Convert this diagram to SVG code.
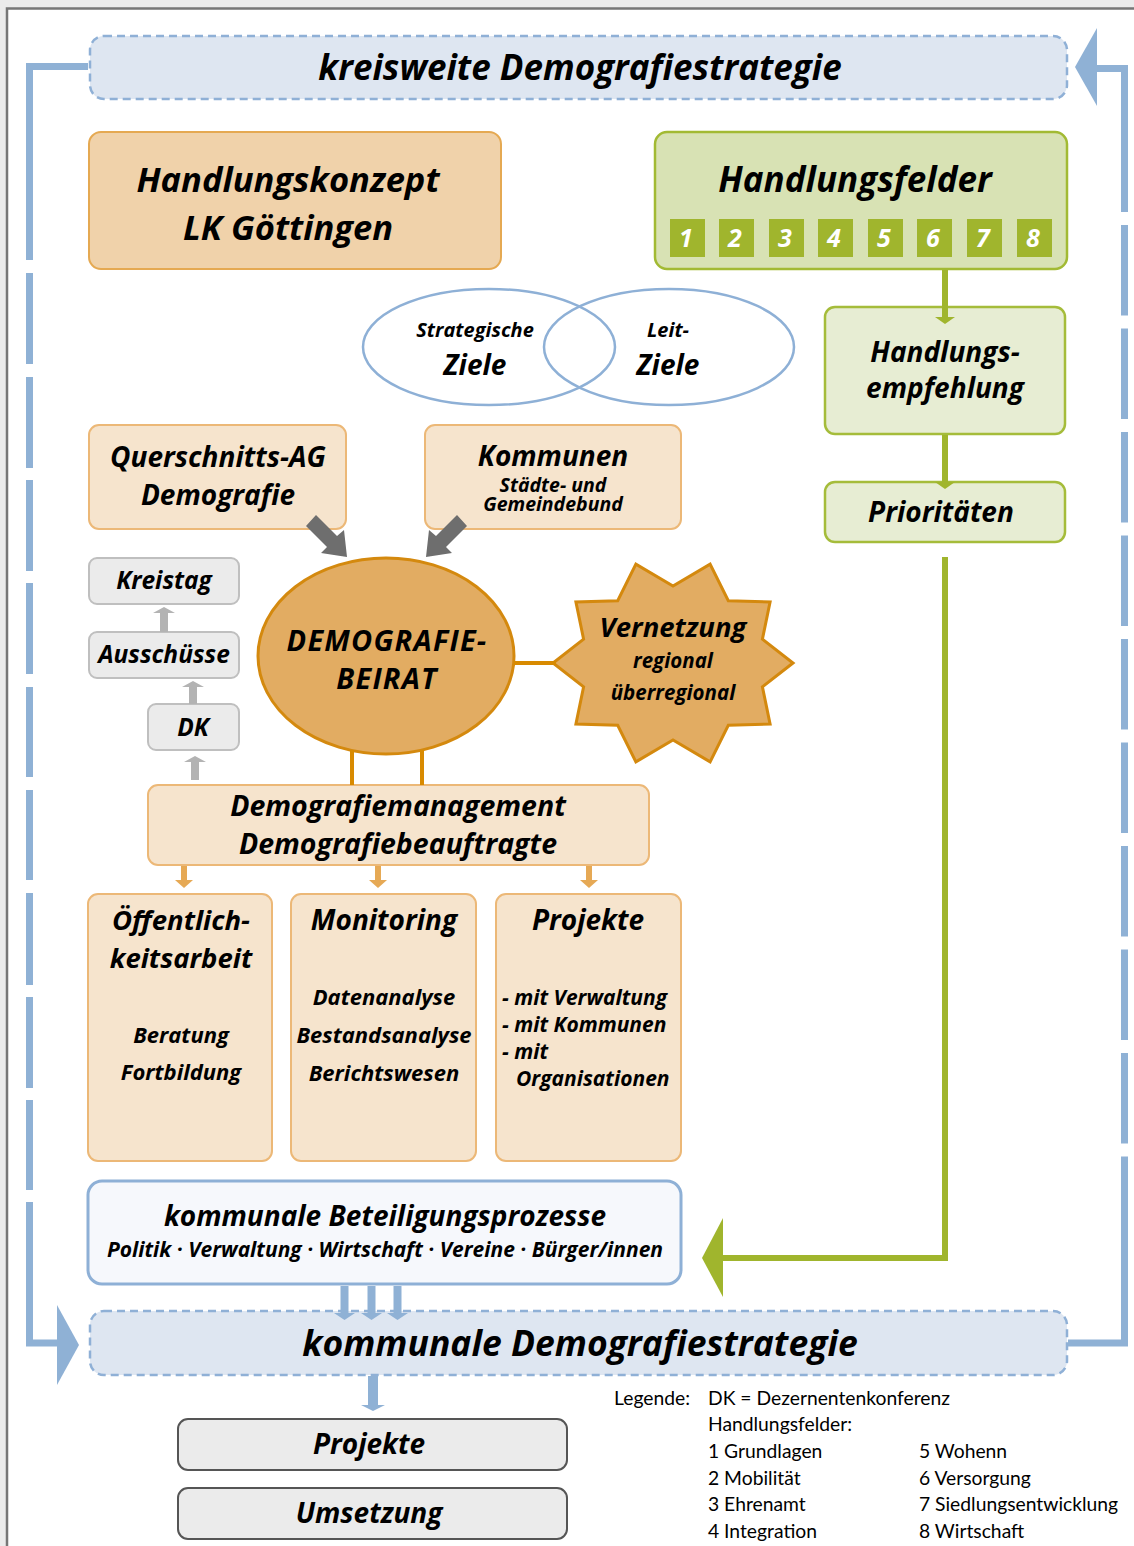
<svg xmlns="http://www.w3.org/2000/svg" width="1134" height="1546" viewBox="0 0 1134 1546">
<defs>
<style>
.t{font-family:"Open Sans",Lato,"Liberation Sans",sans-serif;font-weight:700;font-style:italic;text-anchor:middle;fill:#000}
.s{text-anchor:start}
.leg{font-family:Lato,"Open Sans","Liberation Sans",sans-serif;font-weight:400;font-size:19.3px;fill:#000}
.band{fill:#dee6f1;stroke:#8fb0d6;stroke-width:2.5;stroke-dasharray:8 5}
.peach{fill:#f0d2aa;stroke:#e5a952;stroke-width:2}
.lp{fill:#f6e4cd;stroke:#ecb877;stroke-width:2}
.gbox{fill:#d8e2b4;stroke:#a2ba33;stroke-width:2.5}
.lg{fill:#e7edd3;stroke:#a5bc3a;stroke-width:2.5}
.sq{fill:#a0b52d}
.num{font-family:"Open Sans",Lato,sans-serif;font-weight:700;font-style:italic;font-size:25px;fill:#fff;text-anchor:middle}
.grey{fill:#ebebeb;stroke:#bfbfbf;stroke-width:2}
.dgrey{fill:#ebebeb;stroke:#555;stroke-width:2}
.blu{fill:none;stroke:#8fb1d5;stroke-width:7}
.blf{fill:#8fb1d5}
.orl{stroke:#d88a00;stroke-width:4;fill:none}
.orf{fill:#e6a955}
.grn{fill:none;stroke:#a0b52d;stroke-width:6}
.grf{fill:#a0b52d}
.venn{fill:none;stroke:#8eb0d6;stroke-width:2.5}
</style>
</defs>
<rect x="0" y="0" width="1134" height="1546" fill="#ebebeb"/>
<rect x="7" y="9" width="1127" height="1537" fill="#fff"/>
<path d="M7 1546 V8.5 H1134" fill="none" stroke="#767676" stroke-width="2.5"/>

<g id="kreisweite">
  <rect class="band" x="90" y="36" width="977" height="63" rx="14"/>
  <text class="t" x="580" y="80" font-size="35">kreisweite Demografiestrategie</text>
</g>

<g id="handlungskonzept">
  <rect class="peach" x="89" y="132" width="412" height="137" rx="12"/>
  <text class="t" x="288" y="192" font-size="34.5">Handlungskonzept</text>
  <text class="t" x="288" y="240" font-size="34.5">LK Göttingen</text>
</g>

<g id="handlungsfelder">
  <rect class="gbox" x="655" y="132" width="412" height="137" rx="12"/>
  <text class="t" x="855" y="192" font-size="35">Handlungsfelder</text>
  <rect class="sq" x="670" y="219" width="35" height="38"/>
  <rect class="sq" x="719" y="219" width="35" height="38"/>
  <rect class="sq" x="769" y="219" width="35" height="38"/>
  <rect class="sq" x="818" y="219" width="35" height="38"/>
  <rect class="sq" x="868" y="219" width="35" height="38"/>
  <rect class="sq" x="917" y="219" width="35" height="38"/>
  <rect class="sq" x="967" y="219" width="35" height="38"/>
  <rect class="sq" x="1017" y="219" width="35" height="38"/>
  <text class="num" x="686" y="247">1</text>
  <text class="num" x="735" y="247">2</text>
  <text class="num" x="785" y="247">3</text>
  <text class="num" x="834" y="247">4</text>
  <text class="num" x="884" y="247">5</text>
  <text class="num" x="933" y="247">6</text>
  <text class="num" x="983" y="247">7</text>
  <text class="num" x="1033" y="247">8</text>
</g>

<g id="ziele">
  <ellipse class="venn" cx="489" cy="347" rx="126" ry="58"/>
  <ellipse class="venn" cx="669" cy="347" rx="125" ry="58"/>
  <text class="t" x="475" y="337" font-size="20">Strategische</text>
  <text class="t" x="475" y="375" font-size="28">Ziele</text>
  <text class="t" x="668" y="337" font-size="20">Leit-</text>
  <text class="t" x="668" y="375" font-size="28">Ziele</text>
</g>

<g id="handlungsempfehlung">
  <rect class="lg" x="825" y="307" width="240" height="127" rx="10"/>
  <text class="t" x="945" y="362" font-size="28">Handlungs-</text>
  <text class="t" x="945" y="398" font-size="28">empfehlung</text>
</g>

<g id="prioritaeten">
  <rect class="lg" x="825" y="482" width="240" height="60" rx="10"/>
  <text class="t" x="941" y="522" font-size="28">Prioritäten</text>
</g>

<g id="querschnitts-ag">
  <rect class="lp" x="89" y="425" width="257" height="104" rx="10"/>
  <text class="t" x="218" y="467" font-size="28">Querschnitts-AG</text>
  <text class="t" x="218" y="505" font-size="28">Demografie</text>
</g>

<g id="kommunen">
  <rect class="lp" x="425" y="425" width="256" height="104" rx="10"/>
  <text class="t" x="553" y="466" font-size="28">Kommunen</text>
  <text class="t" x="553" y="492" font-size="19.5">Städte- und</text>
  <text class="t" x="553" y="511" font-size="19.5">Gemeindebund</text>
</g>

<g id="kreistag">
  <rect class="grey" x="89" y="558" width="150" height="46" rx="8"/>
  <text class="t" x="164" y="589" font-size="24.5">Kreistag</text>
</g>
<g id="ausschuesse">
  <rect class="grey" x="89" y="632" width="150" height="46" rx="8"/>
  <text class="t" x="164" y="663" font-size="24.5">Ausschüsse</text>
</g>
<g id="dk">
  <rect class="grey" x="148" y="704" width="91" height="46" rx="8"/>
  <text class="t" x="193" y="736" font-size="24.5">DK</text>
</g>

<g id="beirat">
  <ellipse cx="386" cy="656" rx="128" ry="98" fill="#e2ac62" stroke="#d4890e" stroke-width="3"/>
  <text class="t" x="387" y="651" font-size="29" letter-spacing="1.2">DEMOGRAFIE-</text>
  <text class="t" x="387" y="689" font-size="29" letter-spacing="1.2">BEIRAT</text>
</g>

<g id="vernetzung">
  <polygon fill="#e2ac62" stroke="#d4890e" stroke-width="3" points="793,663 762.4,686.8 770.1,724.1 728.3,725.3 710.1,761.9 673,740 635.9,761.9 617.7,725.3 575.9,724.1 583.6,686.8 553,663 583.6,639.2 575.9,601.9 617.7,600.7 635.9,564.1 673,586 710.1,564.1 728.3,600.7 770.1,601.9 762.4,639.2"/>
  <text class="t" x="673" y="637" font-size="27.5">Vernetzung</text>
  <text class="t" x="673" y="668" font-size="20.5">regional</text>
  <text class="t" x="673" y="700" font-size="20.5">überregional</text>
</g>

<g id="demografiemanagement">
  <rect class="lp" x="148" y="785" width="501" height="80" rx="10"/>
  <text class="t" x="398" y="816" font-size="28.5">Demografiemanagement</text>
  <text class="t" x="398" y="854" font-size="28.5">Demografiebeauftragte</text>
</g>

<g id="oeffentlichkeitsarbeit">
  <rect class="lp" x="88" y="894" width="184" height="267" rx="10"/>
  <text class="t" x="181" y="930" font-size="27.5">Öffentlich-</text>
  <text class="t" x="181" y="968" font-size="27.5">keitsarbeit</text>
  <text class="t" x="181" y="1043" font-size="22">Beratung</text>
  <text class="t" x="181" y="1080" font-size="22">Fortbildung</text>
</g>

<g id="monitoring">
  <rect class="lp" x="291" y="894" width="185" height="267" rx="10"/>
  <text class="t" x="384" y="930" font-size="28">Monitoring</text>
  <text class="t" x="384" y="1005" font-size="22">Datenanalyse</text>
  <text class="t" x="384" y="1043" font-size="22">Bestandsanalyse</text>
  <text class="t" x="384" y="1081" font-size="22">Berichtswesen</text>
</g>

<g id="projekte-mid">
  <rect class="lp" x="496" y="894" width="185" height="267" rx="10"/>
  <text class="t" x="588" y="930" font-size="28">Projekte</text>
  <text class="t s" x="502" y="1005" font-size="21">- mit Verwaltung</text>
  <text class="t s" x="502" y="1032" font-size="21">- mit Kommunen</text>
  <text class="t s" x="502" y="1059" font-size="21">- mit</text>
  <text class="t s" x="516" y="1086" font-size="21">Organisationen</text>
</g>

<g id="beteiligungsprozesse">
  <rect x="88" y="1181" width="593" height="103" rx="14" fill="#f6f8fc" stroke="#8eb0d6" stroke-width="3"/>
  <text class="t" x="385" y="1226" font-size="28">kommunale Beteiligungsprozesse</text>
  <text class="t" x="385" y="1257" font-size="21">Politik · Verwaltung · Wirtschaft · Vereine · Bürger/innen</text>
</g>

<g id="kommunale">
  <rect class="band" x="90" y="1311" width="977" height="64" rx="14"/>
  <text class="t" x="580" y="1356" font-size="35.5">kommunale Demografiestrategie</text>
</g>

<g id="projekte">
  <rect class="dgrey" x="178" y="1419" width="389" height="51" rx="10"/>
  <text class="t" x="369" y="1454" font-size="28">Projekte</text>
</g>
<g id="umsetzung">
  <rect class="dgrey" x="178" y="1488" width="389" height="51" rx="10"/>
  <text class="t" x="369" y="1523" font-size="28">Umsetzung</text>
</g>

<g id="legende">
  <text class="leg" x="614" y="1405">Legende:</text>
  <text class="leg" x="708" y="1405">DK = Dezernentenkonferenz</text>
  <text class="leg" x="708" y="1431">Handlungsfelder:</text>
  <text class="leg" x="708" y="1458">1 Grundlagen</text>
  <text class="leg" x="708" y="1485">2 Mobilität</text>
  <text class="leg" x="708" y="1511">3 Ehrenamt</text>
  <text class="leg" x="708" y="1538">4 Integration</text>
  <text class="leg" x="919" y="1458">5 Wohenn</text>
  <text class="leg" x="919" y="1485">6 Versorgung</text>
  <text class="leg" x="919" y="1511">7 Siedlungsentwicklung</text>
  <text class="leg" x="919" y="1538">8 Wirtschaft</text>
</g>

<g id="connectors">
  <path class="blu" d="M88 66.5 H29.5 V260 M29.5 273 V364 M29.5 377 V468 M29.5 480 V571 M29.5 583 V674 M29.5 687 V777 M29.5 790 V880 M29.5 893 V985 M29.5 997 V1088 M29.5 1100 V1190 M29.5 1202 V1343 H58"/>
  <polygon class="blf" points="57,1305 79,1345 57,1385"/>
  <path class="blu" d="M1097 68.5 H1124.5 V212 M1124.5 225 V315.5 M1124.5 328.5 V419 M1124.5 432 V522.5 M1124.5 535.5 V626 M1124.5 639 V729.5 M1124.5 742.5 V833 M1124.5 846 V936.5 M1124.5 949.5 V1040 M1124.5 1053 V1143.5 M1124.5 1156.5 V1343 H1068"/>
  <polygon class="blf" points="1097,28 1075,67 1097,106"/>
  <path class="grn" d="M945 270 V318"/>
  <polygon class="grf" points="935,317 955,317 945,324"/>
  <path class="grn" d="M945 435 V483"/>
  <polygon class="grf" points="935,482 955,482 945,489"/>
  <path class="grn" d="M945 557 V1258 H720"/>
  <polygon class="grf" points="723,1218 702,1258 723,1297"/>
  <polygon fill="#6e6e6e" points="316,515 337,536 344,530 347,557 321,553 327,547 306,526"/>
  <polygon fill="#6e6e6e" points="457,515 436,536 429,530 426,557 452,553 446,547 467,526"/>
  <path fill="#b3b3b3" d="M160 632 V613 H153 L164 607 L175 613 H168 V632 Z"/>
  <path fill="#b3b3b3" d="M189 704 V687 H182 L193 681 L204 687 H197 V704 Z"/>
  <path fill="#b3b3b3" d="M191 780 V762 H184 L195 756 L206 762 H199 V780 Z"/>
  <path class="orl" d="M514 663 H556"/>
  <path class="orl" d="M352 750 V785 M422 750 V785"/>
  <path class="orf" d="M181 866 V880 H175 L184 888 L193 880 H187 V866 Z"/>
  <path class="orf" d="M375 866 V880 H369 L378 888 L387 880 H381 V866 Z"/>
  <path class="orf" d="M586 866 V880 H580 L589 888 L598 880 H592 V866 Z"/>
  <path class="blf" d="M340.5 1286 V1313 H334 L344.5 1320 L355 1313 H348.5 V1286 Z"/>
  <path class="blf" d="M367.5 1286 V1313 H361 L371.5 1320 L382 1313 H375.5 V1286 Z"/>
  <path class="blf" d="M393.5 1286 V1313 H387 L397.5 1320 L408 1313 H401.5 V1286 Z"/>
  <path class="blf" d="M368 1376 V1405 H361 L373 1411 L385 1405 H378 V1376 Z"/>
</g>
</svg>
